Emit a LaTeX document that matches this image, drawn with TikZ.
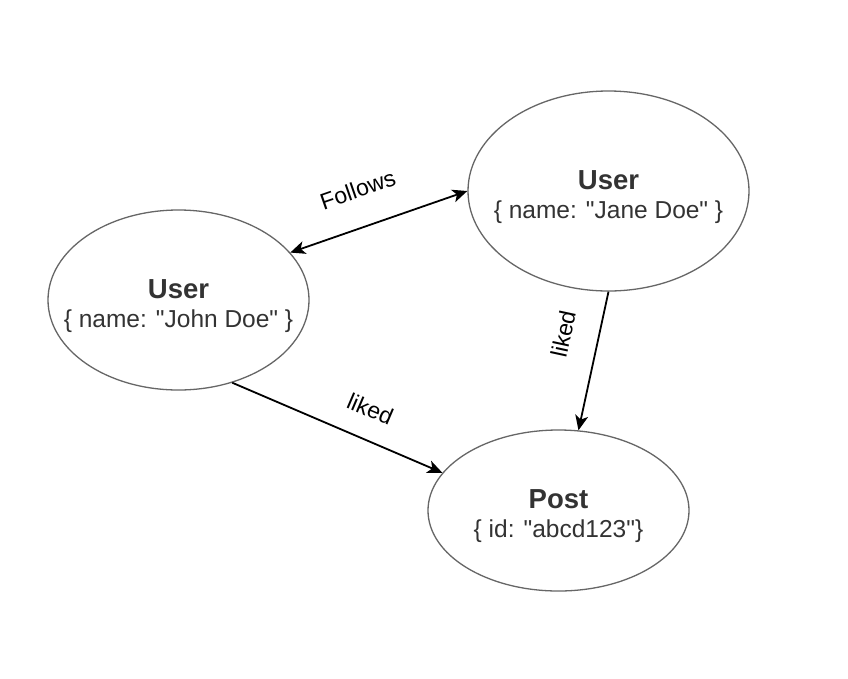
\documentclass[tikz,border=0pt]{standalone}
\usepackage{fontspec}
\setmainfont{Liberation Sans}[Ligatures=TeXOff]
\usetikzlibrary{shapes.geometric,arrows.meta}
\definecolor{txt}{HTML}{333333}
\definecolor{ringgray}{HTML}{666666}
\begin{document}
\begin{tikzpicture}[x=1pt,y=-1pt,
  >={Stealth[length=15pt,width=13pt,inset=4pt]},
  entity/.style={ellipse, draw=ringgray, line width=1.3pt, inner sep=0pt},
  title/.style={font=\fontsize{27.5}{30}\selectfont\bfseries, text=txt, anchor=base, inner sep=0pt},
  props/.style={font=\fontsize{24.5}{28}\selectfont, text=txt, anchor=base, inner sep=0pt},
  rel/.style={line width=1.8pt, draw=black},
  rellabel/.style={font=\fontsize{23}{26}\selectfont, sloped, inner sep=0pt},
]
\useasboundingbox[fill=white] (0,0) rectangle (848,678);

\node[entity, minimum width=261pt, minimum height=180pt] (john) at (178.5,300) {};
\node[entity, minimum width=281pt, minimum height=200pt] (jane) at (608.5,191) {};
\node[entity, minimum width=261pt, minimum height=161pt] (post) at (558.5,510.5) {};

\node[title] (johnT) at (178.5,298) {User};
\node[props] (johnP) at (178.5,327) {\{ name: "John Doe" \}};
\node[title] (janeT) at (608.5,189) {User};
\node[props] (janeP) at (608.5,218) {\{ name: "Jane Doe" \}};
\node[title] (postT) at (558.5,508) {Post};
\node[props] (postP) at (558.5,537) {\{ id: "abcd123"\}};

\draw[rel, <->] (john.23.7) -- node[rellabel, pos=0.45, above=28pt] (lf) {Follows} (jane.180);
\draw[rel, ->] (john.-57.4) -- node[rellabel, pos=0.6, above=21pt] (ll1) {liked} (post.162);
\draw[rel, ->] (jane.-90) -- node[rellabel, pos=0.36, above=26pt] (ll2) {liked} (post.76.6);
\end{tikzpicture}
\end{document}
